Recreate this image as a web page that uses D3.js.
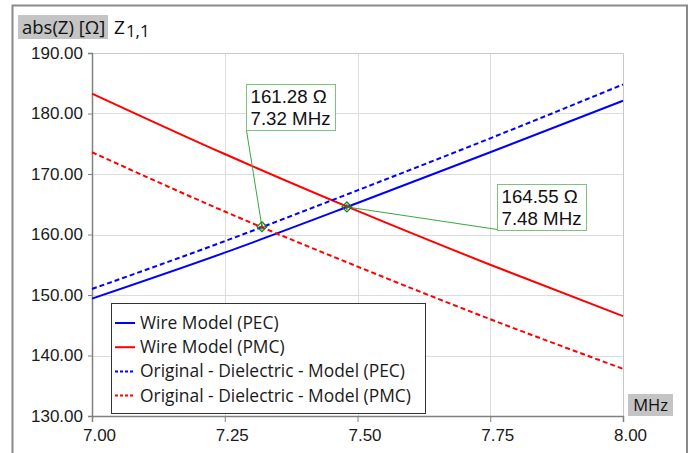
<!DOCTYPE html>
<html>
<head>
<meta charset="utf-8">
<script src="https://cdn.jsdelivr.net/npm/d3@7"></script>
<style>
    body { margin: 0; background: #fff; }
    svg { display: block; font-family: "Open Sans", sans-serif; }
    .grid line { stroke: #dcdcdc; stroke-width: 1; }
    .tick text { fill: #1a1a1a; }
</style>
</head>
<body>
<script>
//frequency samples (MHz)
var freqs = [7.00, 7.25, 7.50, 7.75, 8.00];

//abs(Z) values, in ohms
var wirePEC = [149.4, 157.0, 165.2, 173.6, 182.1];
var wirePMC = [183.3, 173.3, 163.9, 155.0, 146.5];
var dielPEC = [151.0, 158.9, 167.3, 175.9, 184.8];
var dielPMC = [173.6, 163.8, 154.7, 146.0, 137.8];

var seriesNames = ["Wire Model (PEC)", "Wire Model (PMC)", "Original - Dielectric - Model (PEC)", "Original - Dielectric - Model (PMC)"];

//axis ticks
var xTicks = [7.00, 7.25, 7.50, 7.75, 8.00];
var yTicks = [130, 140, 150, 160, 170, 180, 190];

//marker annotations
var markerFreqs = [7.32, 7.48];
var markerValues = [161.28, 164.55];

(function () {

    var width = 694,
        height = 453;

    var margin = { top: 53, left: 92, right: 71, bottom: 37 };
    var plotW = width - margin.left - margin.right,
        plotH = height - margin.top - margin.bottom;

    var svg = d3.select("body")
        .append("svg")
        .attr("width", width)
        .attr("height", height);

    //outer frame of the window
    svg.append("path")
        .attr("d", "M12.5," + height + "V5.5H687V" + height)
        .attr("fill", "none")
        .attr("stroke", "#8a8a8a")
        .attr("stroke-width", 2);

    var x = d3.scaleLinear().domain([7, 8]).range([0, plotW]);
    var y = d3.scaleLinear().domain([130, 190]).range([plotH, 0]);

    var g = svg.append("g")
        .attr("transform", "translate(" + margin.left + "," + margin.top + ")");

    //grid lines
    var grid = g.append("g").attr("class", "grid");
    grid.selectAll(".gx")
        .data(xTicks.slice(1, -1))
        .enter()
        .append("line")
        .attr("x1", function (d) { return Math.round(x(d)) + 0.5; })
        .attr("x2", function (d) { return Math.round(x(d)) + 0.5; })
        .attr("y1", 0)
        .attr("y2", plotH);
    grid.selectAll(".gy")
        .data(yTicks.slice(1, -1))
        .enter()
        .append("line")
        .attr("x1", 0)
        .attr("x2", plotW)
        .attr("y1", function (d) { return Math.round(y(d)) + 0.5; })
        .attr("y2", function (d) { return Math.round(y(d)) + 0.5; });

    //top and right border
    g.append("path")
        .attr("d", "M0,0.5H" + (plotW + 0.5) + "V" + plotH)
        .attr("fill", "none")
        .attr("stroke", "#c8c8c8");

    //axes
    var xAxis = g.append("g")
        .attr("transform", "translate(0," + plotH + ")")
        .call(d3.axisBottom(x).tickValues(xTicks).tickSize(6).tickPadding(7).tickFormat(d3.format(".2f")));
    xAxis.selectAll("text")
        .attr("dx", 7)
        .style("font-size", "17px");

    var yAxis = g.append("g")
        .call(d3.axisLeft(y).tickValues(yTicks).tickSize(4).tickPadding(5).tickFormat(d3.format(".2f")));
    yAxis.selectAll("text")
        .style("font-size", "17px");

    [xAxis, yAxis].forEach(function (ax) {
        ax.select(".domain").attr("stroke", "#808080").attr("stroke-width", 1.5);
        ax.selectAll(".tick line").attr("stroke", "#808080");
    });

    //curves
    var series = [
        { name: seriesNames[0], values: wirePEC, color: "#0000ff", dash: null },
        { name: seriesNames[1], values: wirePMC, color: "#ff0000", dash: null },
        { name: seriesNames[2], values: dielPEC, color: "#0000ff", dash: "5,3" },
        { name: seriesNames[3], values: dielPMC, color: "#ff0000", dash: "5,3" }
    ];

    var line = d3.line()
        .x(function (d, i) { return x(freqs[i]); })
        .y(function (d) { return y(d); })
        .curve(d3.curveMonotoneX);

    g.selectAll(".curve")
        .data(series)
        .enter()
        .append("path")
        .attr("class", "curve")
        .attr("d", function (d) { return line(d.values); })
        .attr("fill", "none")
        .attr("stroke", function (d) { return d.color; })
        .attr("stroke-width", 2)
        .attr("stroke-dasharray", function (d) { return d.dash; });

    //legend
    var legend = g.append("g").attr("transform", "translate(19,250)");
    legend.append("rect")
        .attr("x", 0.5)
        .attr("y", 0.5)
        .attr("width", 314)
        .attr("height", 110)
        .attr("fill", "#fff")
        .attr("stroke", "#333");
    var items = legend.selectAll(".item")
        .data(series)
        .enter()
        .append("g")
        .attr("transform", function (d, i) { return "translate(0," + (20 + i * 24.2) + ")"; });
    items.append("line")
        .attr("x1", 4)
        .attr("x2", 24)
        .attr("stroke", function (d) { return d.color; })
        .attr("stroke-width", 2)
        .attr("stroke-dasharray", function (d) { return d.dash ? "3,2" : null; });
    items.append("text")
        .attr("x", 29)
        .attr("dy", "0.35em")
        .style("font-size", "17.4px")
        .attr("fill", "#1a1a1a")
        .text(function (d) { return d.name; });

    //markers with their labels
    var boxes = [
        { dx: -16, dy: -143, w: 89, h: 46, ax: 0, ay: 46 },
        { dx: 150, dy: -23, w: 89, h: 46, ax: 0, ay: 45 }
    ];
    markerFreqs.forEach(function (f, i) {
        var mx = x(f), my = y(markerValues[i]), b = boxes[i];
        var bx = Math.round(mx + b.dx) + 0.5, by = Math.round(my + b.dy) + 0.5;

        g.append("line")
            .attr("x1", mx).attr("y1", my)
            .attr("x2", bx + b.ax).attr("y2", by + b.ay)
            .attr("stroke", "#3aa83a")
            .attr("stroke-width", 1);

        g.append("rect")
            .attr("x", bx).attr("y", by)
            .attr("width", b.w).attr("height", b.h)
            .attr("fill", "#fff")
            .attr("stroke", "#7cc47c");

        var t = g.append("text")
            .attr("x", bx + 4)
            .attr("y", by + 18)
            .style("font-family", "'Liberation Sans', Arial, sans-serif")
            .style("font-size", "18.7px")
            .attr("fill", "#111");
        t.append("tspan").text(markerValues[i].toFixed(2) + " \u03A9");
        t.append("tspan").attr("x", bx + 4).attr("dy", 22).text(f.toFixed(2) + " MHz");

        g.append("path")
            .attr("d", "M" + mx + "," + (my - 5) + "L" + (mx + 5) + "," + my + "L" + mx + "," + (my + 5) + "L" + (mx - 5) + "," + my + "Z" +
                "M" + (mx - 3) + "," + my + "H" + (mx + 3) + "M" + mx + "," + (my - 3) + "V" + (my + 3))
            .attr("fill", "none")
            .attr("stroke", "#1f7a1f")
            .attr("stroke-width", 1.2);
        g.append("circle")
            .attr("cx", mx).attr("cy", my)
            .attr("r", 1.2)
            .attr("fill", "#b03030");
    });

    //quantity label top left
    svg.append("rect")
        .attr("x", 18).attr("y", 15)
        .attr("width", 90).attr("height", 24)
        .attr("fill", "#c4c4c4");
    svg.append("text")
        .attr("x", 22).attr("y", 34)
        .style("font-size", "18.5px")
        .attr("fill", "#111")
        .text("abs(Z) [\u03A9]");
    var zt = svg.append("text")
        .attr("x", 114).attr("y", 34)
        .style("font-size", "19px")
        .attr("fill", "#111")
        .text("Z");
    zt.append("tspan")
        .attr("dy", 3)
        .attr("dx", 1)
        .style("font-size", "17px")
        .text("1,1");

    //unit label bottom right
    svg.append("rect")
        .attr("x", 628).attr("y", 394)
        .attr("width", 45).attr("height", 22)
        .attr("fill", "#c4c4c4");
    svg.append("text")
        .attr("x", 650.5).attr("y", 411)
        .attr("text-anchor", "middle")
        .style("font-size", "16.5px")
        .attr("fill", "#111")
        .text("MHz");

})();
</script>
</body>
</html>
